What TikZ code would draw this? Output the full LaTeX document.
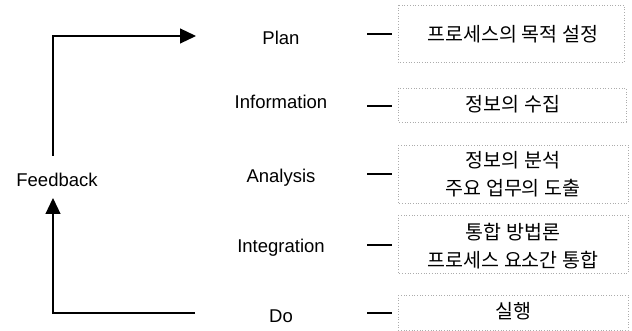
\documentclass[tikz,border=0pt]{standalone}
\usepackage{fontspec}
\setmainfont{Liberation Sans}
\newfontfamily\kor{Noto Sans CJK KR}
\usetikzlibrary{arrows.meta}
\begin{document}
\begin{tikzpicture}[x=1pt,y=-1pt,
  lbl/.style={font=\fontsize{18.5}{22}\selectfont, inner sep=0pt, anchor=center},
  ktxt/.style={font=\kor\fontsize{19.5}{28}\selectfont, align=center, inner sep=0pt, anchor=center},
  kbox/.style={draw=gray!65, dotted, line width=0.7pt},
  dashline/.style={line width=1.1pt},
  arr/.style={line width=1.2pt, -{Triangle[length=16pt,width=15pt]}}]
\useasboundingbox (0,0) rectangle (632,331);
% English labels
\node[lbl] (plan) at (281,38) {Plan};
\node[lbl] (info) at (281,102) {Information};
\node[lbl] (anal) at (281,178) {Analysis};
\node[lbl] (integ) at (281,248) {Integration};
\node[lbl] (do) at (281,316) {Do};
\node[lbl] (fb) at (57,180) {Feedback};
% Boxes
\draw[kbox] (398,5) rectangle (624,62);
\draw[kbox] (398,88) rectangle (626,122);
\draw[kbox] (398,145) rectangle (628,203);
\draw[kbox] (398,215) rectangle (628,273);
\draw[kbox] (398,295) rectangle (628,330);
\node[ktxt] (k1) at (513,34) {프로세스의 목적 설정};
\node[ktxt] (k2) at (513,104) {정보의 수집};
\node[ktxt] (k3) at (513,174) {정보의 분석\\주요 업무의 도출};
\node[ktxt] (k4) at (513,246) {통합 방법론\\프로세스 요소간 통합};
\node[ktxt] (k5) at (513,311) {실행};
% dashes
\foreach \n/\y in {a/34,b/106,c/174,d/245,e/313}{
  \coordinate (d\n1) at (367,\y);
  \coordinate (d\n2) at (392,\y);
  \draw[dashline] (d\n1) -- (d\n2);
}
% feedback arrows
\coordinate (fbtop) at (53,156);
\coordinate (plantip) at (196,36);
\draw[arr] (fbtop) |- (plantip);
\coordinate (dostart) at (195,313);
\coordinate (fbbot) at (53,198);
\draw[arr] (dostart) -| (fbbot);
\end{tikzpicture}
\end{document}
